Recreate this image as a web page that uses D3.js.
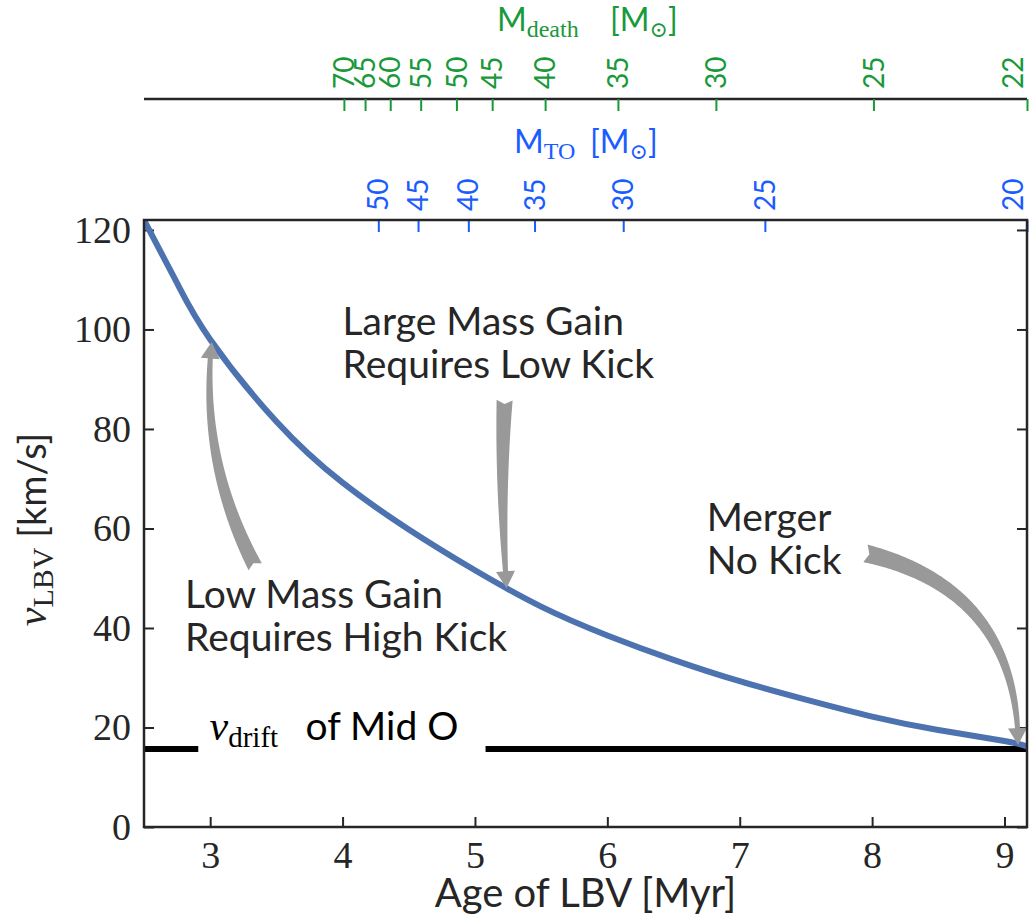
<!DOCTYPE html>
<html>
<head>
<meta charset="utf-8">
<script src="https://cdn.jsdelivr.net/npm/d3@7"></script>
<style>
  html, body { margin: 0; padding: 0; background: #fff; }
  svg { display: block; }
</style>
</head>
<body>
<svg id="chart" width="1031" height="922"></svg>
<script>
// ---------------- data ----------------
const ages = [2.5, 2.75, 3.0, 3.5, 4.0, 4.5, 5.0, 5.5, 6.0, 6.5, 7.0, 7.5, 8.0, 8.5, 9.0, 9.17];
const vLBV = [122, 109.3, 98, 81.5, 69.2, 59.8, 51.6, 44.3, 38.5, 33.6, 29.3, 25.6, 22.2, 19.5, 17.3, 16.2];

const xTicks = [3, 4, 5, 6, 7, 8, 9];
const yTicks = [0, 20, 40, 60, 80, 100, 120];

const mtoLabels = [50, 45, 40, 35, 30, 25, 20];
const mtoAges   = [4.27, 4.57, 4.95, 5.45, 6.12, 7.19, 9.17];

const mdeathLabels = [70, 65, 60, 55, 50, 45, 40, 35, 30, 25, 22];
const mdeathAges   = [4.01, 4.17, 4.36, 4.59, 4.86, 5.13, 5.53, 6.08, 6.82, 8.01, 9.17];

const driftV = 15.7;
const driftSegments = [[2.5, 2.91], [5.08, 9.17]];

// arrows: tail (age, v) -> tip (age, v), arc curvature
const arrowTails = [[3.34, 52.3], [5.224, 85.8], [7.95, 55.0]];
const arrowTips  = [[3.011, 97.5], [5.239, 48.0], [9.103, 16.5]];
const arrowRads  = [0.15, -0.03, 0.39];

const noteLines = [["Large Mass Gain", "Requires Low Kick"],
                   ["Low Mass Gain", "Requires High Kick"],
                   ["Merger", "No Kick"]];
const noteAnchors = [[4.0, 98.9], [2.81, 44.0], [6.75, 59.4]];

// ---------------- layout ----------------
const L = 144, R = 1027, T = 220, B = 827;
const INK = "#262626";
const SANS = "Lato, 'Open Sans', sans-serif";
const SERIF = "'Liberation Serif', 'DejaVu Serif', serif";
const GREEN = "#18993a";
const BLUE = "#1a5cff";
const GRAY = "#999999";
const CURVE = "#4c72b0";

const svg = d3.select("#chart");
const x = d3.scaleLinear().domain([2.5, 9.17]).range([L, R]);
const y = d3.scaleLinear().domain([0, 122]).range([B, T]);

svg.append("defs").append("clipPath").attr("id", "clip")
  .append("rect").attr("x", L).attr("y", T).attr("width", R - L).attr("height", B - T);

// ---------------- axes ----------------
function styleAxis(g) {
  g.select(".domain").remove();
  g.selectAll(".tick line").attr("stroke", INK).attr("stroke-width", 2);
}
const gLeft = svg.append("g").attr("transform", `translate(${L},0)`)
  .call(d3.axisLeft(y).tickValues(yTicks).tickSize(-10).tickPadding(13).tickFormat(d3.format("d")));
styleAxis(gLeft);
gLeft.selectAll(".tick text").attr("font-family", SERIF).attr("font-size", 38).attr("fill", INK);

const gRight = svg.append("g").attr("transform", `translate(${R},0)`)
  .call(d3.axisRight(y).tickValues(yTicks).tickSize(-10).tickFormat(""));
styleAxis(gRight);

const gBottom = svg.append("g").attr("transform", `translate(0,${B})`)
  .call(d3.axisBottom(x).tickValues(xTicks).tickSize(-10).tickPadding(14).tickFormat(d3.format("d")));
styleAxis(gBottom);
gBottom.selectAll(".tick text").attr("font-family", SERIF).attr("font-size", 38).attr("fill", INK);

// keep rotated edge labels inside the picture
const labelX = d => Math.min(x(d), 1013);

// top: M_TO axis (on the plot's top spine)
const gTop = svg.append("g").attr("transform", `translate(0,${T})`)
  .call(d3.axisTop(x).tickValues(mtoAges).tickSize(-12).tickFormat(""));
gTop.select(".domain").remove();
gTop.selectAll(".tick line").attr("stroke", BLUE).attr("stroke-width", 2);
svg.append("g").selectAll("text").data(mtoAges).join("text")
  .attr("transform", d => `translate(${labelX(d)},${T - 9}) rotate(-90)`)
  .attr("dy", "0.36em")
  .attr("text-anchor", "start")
  .attr("font-family", SANS).attr("font-size", 28).attr("fill", BLUE)
  .text((d, i) => mtoLabels[i]);

// M_death axis (separate line above)
const DY = 99;
svg.append("line").attr("x1", L).attr("x2", R).attr("y1", DY).attr("y2", DY)
  .attr("stroke", INK).attr("stroke-width", 2.5);
const gDeath = svg.append("g").attr("transform", `translate(0,${DY})`)
  .call(d3.axisTop(x).tickValues(mdeathAges).tickSize(-12).tickFormat(""));
gDeath.select(".domain").remove();
gDeath.selectAll(".tick line").attr("stroke", GREEN).attr("stroke-width", 2);
svg.append("g").selectAll("text").data(mdeathAges).join("text")
  .attr("transform", d => `translate(${labelX(d)},${DY - 10}) rotate(-90)`)
  .attr("dy", "0.36em")
  .attr("text-anchor", "start")
  .attr("font-family", SANS).attr("font-size", 28).attr("fill", GREEN)
  .text((d, i) => mdeathLabels[i]);

// ---------------- plot content ----------------
const plot = svg.append("g").attr("clip-path", "url(#clip)");

// drift velocity line
plot.selectAll("line.drift").data(driftSegments).join("line")
  .attr("class", "drift")
  .attr("x1", d => x(d[0])).attr("x2", d => x(d[1]))
  .attr("y1", y(driftV)).attr("y2", y(driftV))
  .attr("stroke", "#000").attr("stroke-width", 6);

// curve
const line = d3.line().x(d => x(d[0])).y(d => y(d[1])).curve(d3.curveNatural);
plot.append("path").datum(ages.map((a, i) => [a, vLBV[i]]))
  .attr("d", line).attr("fill", "none").attr("stroke", CURVE).attr("stroke-width", 6);

// fancy arrows
function fancyArrow(p0, p2, rad, w0, w1, hw, hl) {
  const dx = p2[0] - p0[0], dy = p2[1] - p0[1];
  const c = [(p0[0] + p2[0]) / 2 + rad * dy, (p0[1] + p2[1]) / 2 - rad * dx];
  const N = 200, pts = [];
  for (let i = 0; i <= N; i++) {
    const t = i / N, u = 1 - t;
    pts.push([u * u * p0[0] + 2 * u * t * c[0] + t * t * p2[0],
              u * u * p0[1] + 2 * u * t * c[1] + t * t * p2[1]]);
  }
  const cum = [0];
  for (let i = 1; i <= N; i++) cum.push(cum[i - 1] + Math.hypot(pts[i][0] - pts[i - 1][0], pts[i][1] - pts[i - 1][1]));
  const total = cum[N], cutLen = total - hl;
  let k = 0; while (k < N && cum[k] < cutLen) k++;
  const body = pts.slice(0, k + 1);
  const left = [], right = [];
  body.forEach((p, i) => {
    const a = body[Math.max(0, i - 1)], b = body[Math.min(body.length - 1, i + 1)];
    let tx = b[0] - a[0], ty = b[1] - a[1];
    const len = Math.hypot(tx, ty) || 1; tx /= len; ty /= len;
    const f = cum[i] / cutLen;
    const w = (w0 + (w1 - w0) * Math.min(1, f)) / 2;
    left.push([p[0] - ty * w, p[1] + tx * w]);
    right.push([p[0] + ty * w, p[1] - tx * w]);
  });
  const base = body[body.length - 1];
  let hx = p2[0] - base[0], hy = p2[1] - base[1];
  const hlen = Math.hypot(hx, hy) || 1; hx /= hlen; hy /= hlen;
  const headL = [base[0] - hy * hw / 2, base[1] + hx * hw / 2];
  const headR = [base[0] + hy * hw / 2, base[1] - hx * hw / 2];
  // tail notch
  let t0x = pts[3][0] - pts[0][0], t0y = pts[3][1] - pts[0][1];
  const t0l = Math.hypot(t0x, t0y) || 1; t0x /= t0l; t0y /= t0l;
  const notch = [p0[0] + t0x * 4, p0[1] + t0y * 4];
  const poly = [notch, ...left, headL, p2, headR, ...right.reverse()];
  return "M" + poly.map(p => p[0].toFixed(2) + "," + p[1].toFixed(2)).join("L") + "Z";
}
const arrowWidths = [[15, 5], [16, 5], [18, 5]];
svg.append("g").selectAll("path").data(arrowTails).join("path")
  .attr("d", (d, i) => fancyArrow([x(d[0]), y(d[1])], [x(arrowTips[i][0]), y(arrowTips[i][1])],
                                   arrowRads[i], arrowWidths[i][0], arrowWidths[i][1], 19, 17))
  .attr("fill", GRAY).attr("stroke", "none");

// frame
svg.append("rect").attr("x", L).attr("y", T).attr("width", R - L).attr("height", B - T)
  .attr("fill", "none").attr("stroke", INK).attr("stroke-width", 2.5);

// annotation texts
noteLines.forEach((lines, i) => {
  const t = svg.append("text")
    .attr("font-family", SANS).attr("font-size", 39).attr("fill", INK);
  lines.forEach((s, j) => {
    t.append("tspan").attr("x", x(noteAnchors[i][0])).attr("y", y(noteAnchors[i][1]) + j * 43).text(s);
  });
});

// drift label
const dl = svg.append("text").attr("x", x(2.995)).attr("y", y(driftV) - 9).attr("fill", "#000");
dl.append("tspan").attr("font-family", SERIF).attr("font-style", "italic").attr("font-size", 42).text("v");
dl.append("tspan").attr("font-family", SERIF).attr("font-size", 29).attr("dy", 7).text("drift");
dl.append("tspan").attr("font-family", SANS).attr("font-size", 39).attr("dy", -7).attr("x", x(3.72)).text("of Mid O");

// x label
svg.append("text").attr("x", (L + R) / 2).attr("y", 907).attr("text-anchor", "middle")
  .attr("font-family", SANS).attr("font-size", 40).attr("fill", INK).text("Age of LBV [Myr]");

// y label
const yl = svg.append("text").attr("transform", `translate(46,${(T + B) / 2 + 6}) rotate(-90)`)
  .attr("text-anchor", "middle").attr("fill", INK);
yl.append("tspan").attr("font-family", SERIF).attr("font-style", "italic").attr("font-size", 42).text("v");
yl.append("tspan").attr("font-family", SERIF).attr("font-size", 30).attr("dy", 7).text("LBV");
yl.append("tspan").attr("font-family", SANS).attr("font-size", 38).attr("dy", -7).text(" [km/s]");

// top titles
const gt = svg.append("text").attr("x", 497).attr("y", 31).attr("fill", GREEN);
gt.append("tspan").attr("font-family", SANS).attr("font-size", 32).text("M");
gt.append("tspan").attr("font-family", SERIF).attr("font-size", 24).attr("dy", 6).text("death");
gt.append("tspan").attr("font-family", SANS).attr("font-size", 32).attr("dy", -6).attr("x", 610).text("[M");
gt.append("tspan").attr("font-family", SERIF).attr("font-size", 22).attr("dy", 6).text("⊙");
gt.append("tspan").attr("font-family", SANS).attr("font-size", 32).attr("dy", -6).text("]");

const bt = svg.append("text").attr("x", 514).attr("y", 153).attr("fill", BLUE);
bt.append("tspan").attr("font-family", SANS).attr("font-size", 32).text("M");
bt.append("tspan").attr("font-family", SERIF).attr("font-size", 24).attr("dy", 6).text("TO");
bt.append("tspan").attr("font-family", SANS).attr("font-size", 32).attr("dy", -6).attr("x", 590).text("[M");
bt.append("tspan").attr("font-family", SERIF).attr("font-size", 22).attr("dy", 6).text("⊙");
bt.append("tspan").attr("font-family", SANS).attr("font-size", 32).attr("dy", -6).text("]");
</script>
</body>
</html>
